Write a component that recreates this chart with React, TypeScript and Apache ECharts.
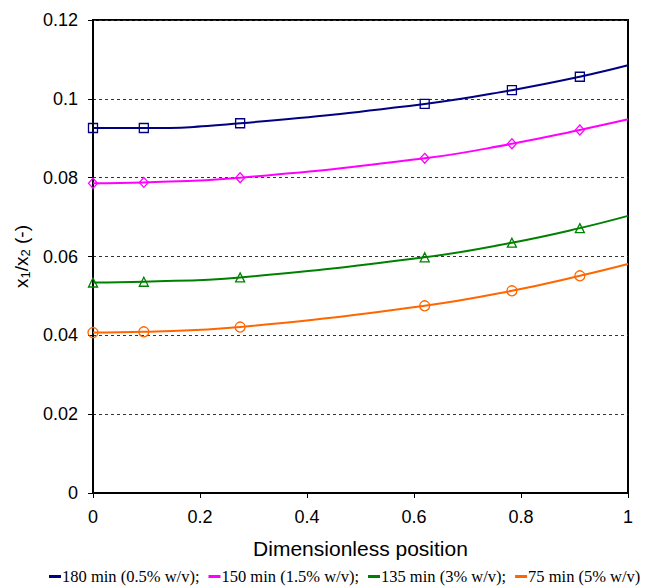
import React, { useEffect, useRef } from "react";
import * as echarts from "echarts";

const xPositions = [0, 0.095, 0.275, 0.62, 0.783, 0.91, 1];
const seriesNames = [
  "180 min (0.5% w/v);",
  "150 min (1.5% w/v);",
  "135 min (3% w/v);",
  "75 min (5% w/v)",
];
const blueValues = [0.0926, 0.0926, 0.0938, 0.0987, 0.1022, 0.1056, 0.1085];
const magentaValues = [0.0786, 0.0788, 0.08, 0.0849, 0.0886, 0.0921, 0.0948];
const greenValues = [0.0534, 0.0536, 0.0547, 0.0598, 0.0635, 0.0672, 0.0703];
const orangeValues = [0.0407, 0.0409, 0.0421, 0.0475, 0.0513, 0.0551, 0.0581];
const colors = ["#000080", "#FF00FF", "#008000", "#FF6600"];
const symbols = ["rect", "diamond", "triangle", "circle"];
const symbolSizes = [9, [9, 10], 9, 10];

export default function App() {
  const ref = useRef<HTMLDivElement>(null);
  useEffect(() => {
    if (!ref.current) return;
    const chart = echarts.init(ref.current, null, { renderer: "svg" });
    const allValues = [blueValues, magentaValues, greenValues, orangeValues];
    const series = allValues.map((vals, i) => ({
      name: seriesNames[i],
      type: "line",
      smooth: 0.45,
      symbol: symbols[i],
      symbolSize: symbolSizes[i],
      showAllSymbol: true,
      lineStyle: { color: colors[i], width: 2 },
      itemStyle: { color: "transparent", borderColor: colors[i], borderWidth: 1.3 },
      data: vals.map((v, j) =>
        j === vals.length - 1
          ? { value: [xPositions[j], v], symbol: "none" }
          : { value: [xPositions[j], v] }
      ),
      z: 3,
    }));
    chart.setOption({
      animation: false,
      backgroundColor: "#fff",
      grid: {
        left: 93,
        right: 23,
        top: 20,
        bottom: 94,
        show: true,
        borderColor: "#000",
        borderWidth: 2,
      },
      xAxis: {
        type: "value",
        min: 0,
        max: 1,
        interval: 0.2,
        name: "Dimensionless position",
        nameLocation: "middle",
        nameGap: 45,
        nameTextStyle: { fontFamily: "Liberation Sans", fontSize: 21, color: "#000" },
        axisLine: { lineStyle: { color: "#000", width: 2 } },
        axisTick: { show: true, length: 5, lineStyle: { color: "#000", width: 1 } },
        axisLabel: { fontFamily: "Liberation Sans", fontSize: 18, color: "#000", margin: 15 },
        splitLine: { show: false },
      },
      yAxis: {
        type: "value",
        min: 0,
        max: 0.12,
        interval: 0.02,
        name: "x{sub|1}/x{sub|2} (-)",
        nameLocation: "middle",
        nameGap: 55,
        nameRotate: 90,
        nameTextStyle: {
          fontFamily: "Liberation Sans",
          fontSize: 19,
          color: "#000",
          rich: {
            sub: { fontFamily: "Liberation Sans", fontSize: 13, color: "#000", verticalAlign: "bottom", padding: [8, 0, 0, 0] },
          },
        },
        axisLine: { lineStyle: { color: "#000", width: 2 } },
        axisTick: { show: true, length: 5, lineStyle: { color: "#000", width: 1 } },
        axisLabel: { fontFamily: "Liberation Sans", fontSize: 18, color: "#000", margin: 15 },
        splitLine: { show: true, lineStyle: { color: "#333", width: 1, type: [3, 3] } },
      },
      legend: {
        orient: "horizontal",
        bottom: 2,
        left: 49,
        width: 602,
        padding: 0,
        icon: "rect",
        itemWidth: 12,
        itemHeight: 3,
        itemGap: 9,
        textStyle: { fontFamily: "Liberation Serif", fontSize: 16.5, color: "#000", padding: [0, 0, 0, -4] },
        data: seriesNames.map((n, i) => ({ name: n, itemStyle: { color: colors[i], borderWidth: 0 } })),
      },
      series,
    });
    return () => chart.dispose();
  }, []);
  return (
    <div
      ref={ref}
      style={{ position: "fixed", left: 0, top: 0, width: 651, height: 587, background: "#fff" }}
    />
  );
}
